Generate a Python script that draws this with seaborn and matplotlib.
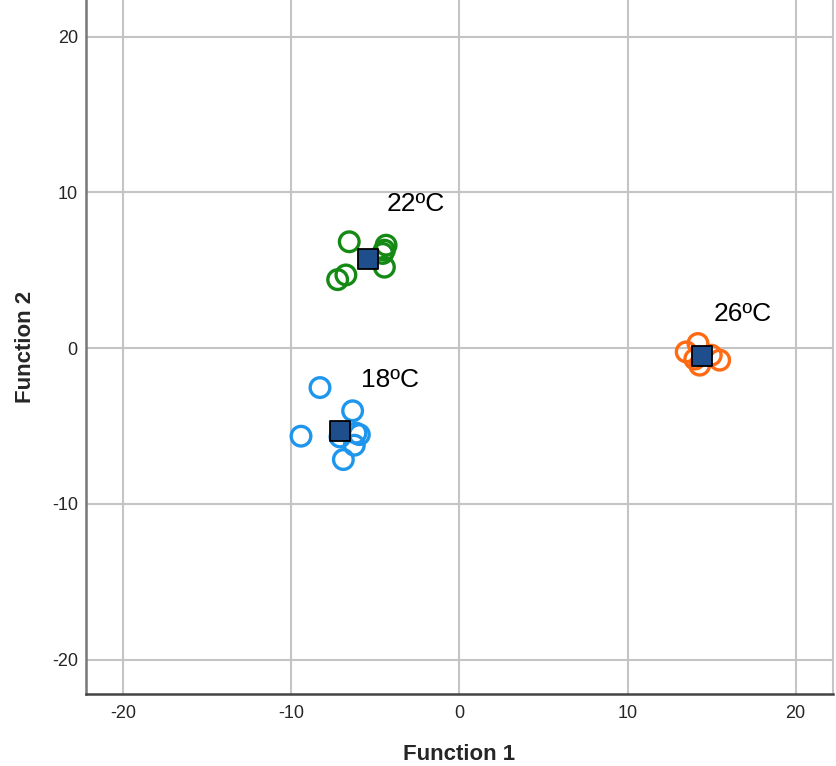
import matplotlib
matplotlib.use("Agg")
import matplotlib.pyplot as plt
import seaborn as sns
import pandas as pd

# Discriminant scores per group
x18 = [-8.29, -6.35, -9.42, -6.15, -5.95, -6.25, -6.90, -7.10]
y18 = [-2.53, -4.02, -5.65, -5.45, -5.55, -6.23, -7.15, -5.70]
x22 = [-6.55, -4.36, -4.46, -4.56, -4.46, -6.75, -7.24]
y22 = [6.83, 6.61, 6.29, 6.08, 5.20, 4.70, 4.40]
x26 = [13.49, 14.19, 15.48, 14.29, 14.98, 14.00]
y26 = [-0.24, 0.30, -0.77, -1.09, -0.45, -0.70]

# Group centroids
cent_x = [-7.10, -5.46, 14.45]
cent_y = [-5.31, 5.71, -0.49]

groups = ["18ºC", "22ºC", "26ºC"]
label_x = [-5.85, -4.35, 15.15]
label_y = [-2.05, 9.25, 2.2]

ticks = [-20, -10, 0, 10, 20]

colors = {"18ºC": "#1E96EE", "22ºC": "#148A14", "26ºC": "#FF6A12"}

df = pd.concat([
    pd.DataFrame({"f1": x18, "f2": y18, "g": "18ºC"}),
    pd.DataFrame({"f1": x22, "f2": y22, "g": "22ºC"}),
    pd.DataFrame({"f1": x26, "f2": y26, "g": "26ºC"}),
])
cent = pd.DataFrame({"f1": cent_x, "f2": cent_y, "g": groups})

sns.set_style("white")
plt.rcParams['font.family'] = ['Liberation Sans', 'DejaVu Sans']

fig = plt.figure(figsize=(8.36, 7.66), dpi=100)
ax = fig.add_axes([0.103, 0.094, 0.893, 0.906])

for g in groups:
    sub = df[df.g == g]
    sns.scatterplot(data=sub, x="f1", y="f2", ax=ax, s=200, marker="o",
                    facecolors="none", edgecolor=colors[g], linewidth=2.4,
                    legend=False, zorder=3)

sns.scatterplot(data=cent, x="f1", y="f2", ax=ax, s=210, marker="s",
                color="#1F4E8C", edgecolor="black", linewidth=1.3,
                legend=False, zorder=4)

for g, lx, ly in zip(groups, label_x, label_y):
    ax.text(lx, ly, g, fontsize=19, va="center", ha="left", color="black", zorder=5)

ax.set_xlim(-22.2, 22.2)
ax.set_ylim(-22.2, 22.35)
ax.set_xticks(ticks)
ax.set_yticks(ticks)
ax.set_xticklabels([str(t) for t in ticks])
ax.set_yticklabels([str(t) for t in ticks])
ax.tick_params(axis="x", length=0, labelsize=13, pad=8)
ax.tick_params(axis="y", length=0, labelsize=13, pad=6)
ax.grid(True, color="#C4C4C4", linewidth=1.5, zorder=0)
ax.set_axisbelow(True)

ax.spines["top"].set_visible(False)
ax.spines["right"].set_color("#C4C4C4")
ax.spines["right"].set_linewidth(1.5)
ax.spines["left"].set_color("#777777")
ax.spines["left"].set_linewidth(1.8)
ax.spines["bottom"].set_color("#444444")
ax.spines["bottom"].set_linewidth(1.8)

ax.set_xlabel("Function 1", fontsize=16, fontweight="bold", labelpad=16)
ax.set_ylabel("Function 2", fontsize=16, fontweight="bold", labelpad=11)

fig.savefig("out.png", dpi=100)
